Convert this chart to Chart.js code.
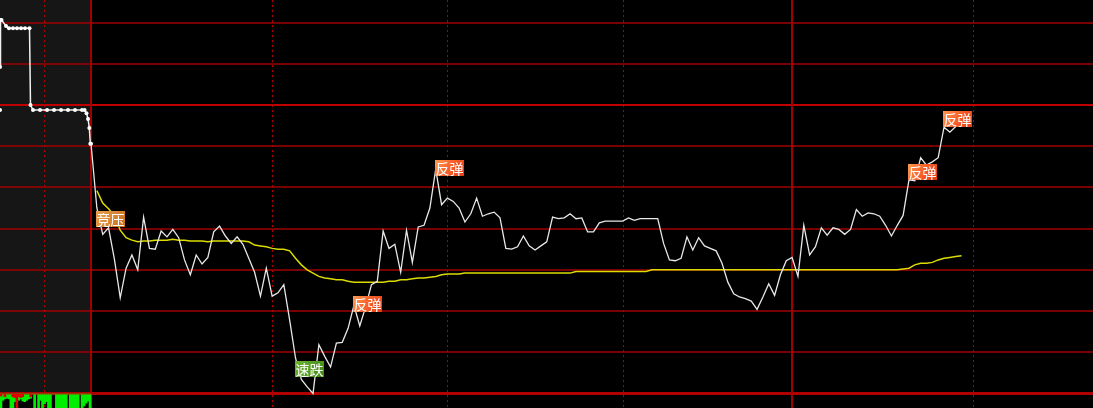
<!DOCTYPE html>
<html>
<head>
<meta charset="utf-8">
<script src="https://cdn.jsdelivr.net/npm/chart.js@4.4.1/dist/chart.umd.min.js"></script>
<style>
  html, body { margin: 0; padding: 0; background: #000; overflow: hidden; }
  #wrap { position: relative; width: 1093px; height: 408px; }
</style>
</head>
<body>
<div id="wrap"><canvas id="c" width="1093" height="408"></canvas></div>
<script>
// ---------- DATA ----------
// Price change in % vs previous close, one value per minute of the session (index = minute)
const mainPrice = [
 -0.47, -1.25, -1.57, -1.49, -1.87, -2.34, -1.98, -1.82, -2.00, -1.36,
 -1.74, -1.75, -1.53, -1.60, -1.51, -1.61, -1.88, -2.06, -1.82, -1.93,
 -1.85, -1.54, -1.47, -1.59, -1.68, -1.60, -1.69, -1.86, -2.03, -2.32,
 -1.98, -2.32, -2.28, -2.18, -2.61, -3.07, -3.33, -3.42, -3.50, -2.91,
 -3.05, -3.18, -2.89, -2.88, -2.71, -2.43, -2.68, -2.45, -2.18, -2.14,
 -1.53, -1.74, -1.69, -2.03, -1.52, -1.91, -1.48, -1.46, -1.25, -0.78,
 -1.21, -1.13, -1.17, -1.25, -1.42, -1.32, -1.13, -1.35, -1.32, -1.30,
 -1.37, -1.74, -1.75, -1.72, -1.59, -1.71, -1.76, -1.71, -1.66, -1.36,
 -1.38, -1.37, -1.32, -1.38, -1.37, -1.54, -1.54, -1.43, -1.41, -1.41,
 -1.41, -1.41, -1.37, -1.40, -1.38, -1.38, -1.38, -1.38, -1.68, -1.88,
 -1.89, -1.86, -1.60, -1.76, -1.61, -1.71, -1.74, -1.77, -1.92, -2.15,
 -2.29, -2.33, -2.35, -2.38, -2.48, -2.33, -2.17, -2.31, -2.06, -1.89,
 -1.85, -2.08, -1.46, -1.82, -1.72, -1.49, -1.58, -1.49, -1.51, -1.57,
 -1.51, -1.27, -1.35, -1.31, -1.32, -1.35, -1.46, -1.59, -1.46, -1.34,
 -0.91, -0.92, -0.64, -0.73, -0.69, -0.64, -0.27, -0.33, -0.26
];
// Average price line (%), per minute
const avgPrice = [
 null, -1.04, -1.19, -1.26, -1.34, -1.52, -1.61, -1.64, -1.66, -1.65,
 -1.65, -1.64, -1.64, -1.64, -1.63, -1.64, -1.64, -1.65, -1.65, -1.65,
 -1.66, -1.65, -1.65, -1.65, -1.65, -1.65, -1.65, -1.66, -1.70, -1.71,
 -1.72, -1.74, -1.75, -1.75, -1.77, -1.86, -1.94, -2.00, -2.04, -2.08,
 -2.10, -2.11, -2.12, -2.12, -2.14, -2.15, -2.15, -2.15, -2.15, -2.15,
 -2.15, -2.14, -2.14, -2.12, -2.12, -2.11, -2.10, -2.10, -2.09, -2.08,
 -2.06, -2.05, -2.05, -2.05, -2.04, -2.04, -2.04, -2.04, -2.04, -2.04,
 -2.04, -2.04, -2.04, -2.04, -2.04, -2.04, -2.04, -2.04, -2.04, -2.04,
 -2.04, -2.04, -2.04, -2.02, -2.02, -2.02, -2.02, -2.02, -2.02, -2.02,
 -2.02, -2.02, -2.02, -2.02, -2.02, -2.02, -2.00, -2.00, -2.00, -2.00,
 -2.00, -2.00, -2.00, -2.00, -2.00, -2.00, -2.00, -2.00, -2.00, -2.00,
 -2.00, -2.00, -2.00, -2.00, -2.00, -2.00, -2.00, -2.00, -2.00, -2.00,
 -2.00, -2.00, -2.00, -2.00, -2.00, -2.00, -2.00, -2.00, -2.00, -2.00,
 -2.00, -2.00, -2.00, -2.00, -2.00, -2.00, -2.00, -2.00, -2.00, -1.99,
 -1.98, -1.94, -1.92, -1.92, -1.91, -1.88, -1.86, -1.85, -1.84, -1.83
];
// Call-auction (pre-open) snapshots: time in minutes relative to open, price in %
const preTimes  = [-15.58, -15.49, -15.32, -14.55, -14.04, -13.35, -12.67, -11.98, -11.30, -10.53,
                   -10.36, -9.93, -8.73, -7.53, -6.33, -5.13, -3.94, -2.74, -1.54, -1.11,
                   -0.77, -0.51, -0.29, -0.12, 0];
const prePrices = [0.46, 1.03, 1.03, 0.96, 0.93, 0.93, 0.93, 0.93, 0.93, 0.93,
                   0.00, -0.06, -0.06, -0.06, -0.06, -0.06, -0.06, -0.06, -0.06, -0.06,
                   -0.10, -0.17, -0.28, -0.47, -0.47];
const preFirstTime = -15.58, preFirstPrice = -0.06;
// Auction volume (relative), evenly spaced over the auction period
const preVolume = [1.0, 0.45, 0.35, 0.3, 0.35, 1.0, 1.0, 0.55, 0.2, 0.45,
                   0.35, 0.5, 0.55, 0.45, 0.35, 0.3, 0.0, 1.0, 0.0, 1.0,
                   0.45, 1.0, 0.7, 0.55, 1.0, 1.0, 0.0, 0.0, 1.0, 1.0,
                   1.0, 1.0, 1.0, 1.0, 0.0, 1.0, 1.0, 1.0, 1.0, 1.0,
                   0.0, 1.0, 0.85, 0.65, 0.5, 1.0];
const preVolumeRed = [0.15, 0, 0.2, 0, 0, 0, 0.2, 0.25, 1.0, 0.2,
                      0.25, 0.2, 0, 0, 0, 0.2, 0, 0, 0, 0,
                      0, 0, 0, 0, 0, 0, 0, 0, 0, 0,
                      0, 0, 0, 0, 0, 0, 0, 0, 0, 0,
                      0, 0, 0, 0, 0, 0];
// Axis definitions
const priceGridTicks = [1.0, 0.5, 0.0, -0.5, -1.0, -1.5, -2.0, -2.5, -3.0, -3.5];
const timeSolidTicks = [0, 120];
const timeDottedTicks = [-8.05, 31, 61, 91, 151];
// Signal tags
const signals = [
  { index: 1,   text: '竞压', kind: 'press',  place: 'below' },
  { index: 35,  text: '速跌', kind: 'fall',   place: 'below' },
  { index: 45,  text: '反弹', kind: 'bounce', place: 'center' },
  { index: 59,  text: '反弹', kind: 'bounce', place: 'center' },
  { index: 140, text: '反弹', kind: 'bounce', place: 'above' },
  { index: 146, text: '反弹', kind: 'bounce', place: 'above' }
];

// ---------- BUILD ----------
const X_MIN = -15.58, X_MAX = 171.5;
const Y_MIN = -3.677, Y_MAX = 1.274;
const auctionStart = X_MIN, auctionEnd = 0;

const mainPts = mainPrice.map((v, i) => ({ x: i, y: v }));
const avgPts = avgPrice.map((v, i) => ({ x: i, y: v }));
const prePts = preTimes.map((t, i) => ({ x: t, y: prePrices[i] }));
const slot = (auctionEnd - auctionStart) / preVolume.length;
const volPts = preVolume.map((v, i) => ({ x: auctionStart + (i + 0.5) * slot, y: v }));
const volRedPts = preVolumeRed.map((v, i) => ({ x: auctionStart + (i + 0.5) * slot, y: v }));

const bgPlugin = {
  id: 'bg',
  beforeDraw(chart) {
    const { ctx, chartArea: a, scales } = chart;
    ctx.save();
    ctx.fillStyle = '#000';
    ctx.fillRect(0, 0, chart.width, chart.height);
    const x0 = scales.x.getPixelForValue(0);
    const yb = scales.y.getPixelForValue(-3.5);
    ctx.fillStyle = '#161616';
    ctx.fillRect(a.left, a.top, x0 - a.left, yb - a.top);
    ctx.restore();
  },
  beforeDatasetsDraw(chart) {
    const { ctx, chartArea: a, scales } = chart;
    ctx.save();
    priceGridTicks.forEach(v => {
      const y = Math.round(scales.y.getPixelForValue(v));
      if (v === 0) { ctx.strokeStyle = '#c00000'; ctx.lineWidth = 2; ctx.beginPath(); ctx.moveTo(a.left, y); ctx.lineTo(a.right, y); ctx.stroke(); }
      else if (v === -3.5) { ctx.strokeStyle = '#b00000'; ctx.lineWidth = 3; ctx.beginPath(); ctx.moveTo(a.left, y + 0.5); ctx.lineTo(a.right, y + 0.5); ctx.stroke(); }
      else { ctx.strokeStyle = '#a00000'; ctx.lineWidth = 1.5; ctx.beginPath(); ctx.moveTo(a.left, y); ctx.lineTo(a.right, y); ctx.stroke(); }
    });
    timeSolidTicks.forEach(t => {
      const x = Math.round(scales.x.getPixelForValue(t));
      ctx.strokeStyle = '#a00000'; ctx.lineWidth = 2;
      ctx.beginPath(); ctx.moveTo(x, a.top); ctx.lineTo(x, a.bottom); ctx.stroke();
    });
    ctx.setLineDash([2, 3]);
    timeDottedTicks.forEach(t => {
      const x = Math.round(scales.x.getPixelForValue(t)) + 0.5;
      ctx.strokeStyle = '#b00000'; ctx.lineWidth = 1;
      ctx.beginPath(); ctx.moveTo(x, a.top); ctx.lineTo(x, a.bottom); ctx.stroke();
    });
    ctx.setLineDash([]);
    ctx.restore();
  },
  afterDatasetsDraw(chart) {
    const { ctx, scales } = chart;
    ctx.save();
    const w = 29, h = 16;
    signals.forEach(s => {
      const px = scales.x.getPixelForValue(s.index);
      const py = scales.y.getPixelForValue(mainPrice[s.index]);
      const left = Math.round(px - 1);
      let top;
      if (s.place === 'below') top = Math.round(py + 3);
      else if (s.place === 'above') top = Math.round(py - h);
      else top = Math.round(py - h / 2 - 1);
      const g = ctx.createLinearGradient(left, top, left + w, top + h);
      if (s.kind === 'bounce') { g.addColorStop(0, '#ff9a50'); g.addColorStop(0.5, '#f8602a'); g.addColorStop(1, '#e83a14'); }
      else if (s.kind === 'fall') { g.addColorStop(0, '#6cb232'); g.addColorStop(1, '#3f8a14'); }
      else { g.addColorStop(0, '#e8a050'); g.addColorStop(1, '#c8701e'); }
      ctx.fillStyle = g;
      ctx.fillRect(left, top, w, h);
      ctx.fillStyle = '#ffffff';
      ctx.font = '14px "Noto Sans CJK SC", sans-serif';
      ctx.textAlign = 'center';
      ctx.textBaseline = 'middle';
      ctx.fillText(s.text, left + w / 2, top + h / 2 + 1);
    });
    ctx.restore();
  }
};

new Chart(document.getElementById('c'), {
  type: 'line',
  data: {
    datasets: [
      { label: 'avg', data: avgPts, borderColor: '#dcdc00', borderWidth: 1.5, pointRadius: 0, tension: 0, order: 2 },
      { label: 'price', data: mainPts, borderColor: '#e8e8e8', borderWidth: 1.3, pointRadius: 0, tension: 0, order: 1 },
      { label: 'auction', data: prePts, borderColor: '#f0f0f0', borderWidth: 1.5, pointRadius: 2, pointBackgroundColor: '#ffffff', pointBorderWidth: 0, tension: 0, order: 1 },
      { label: 'auctionFirst', data: [{ x: preFirstTime, y: preFirstPrice }], showLine: false, pointRadius: 2, pointBackgroundColor: '#ffffff', pointBorderWidth: 0, order: 1 },
      { type: 'bar', label: 'vol', data: volPts, yAxisID: 'yv', backgroundColor: '#00ee00', barThickness: 2, grouped: false, order: 4 },
      { type: 'bar', label: 'volRed', data: volRedPts, yAxisID: 'yv', backgroundColor: '#e00000', barThickness: 2, grouped: false, order: 3 }
    ]
  },
  options: {
    responsive: false,
    animation: false,
    layout: { padding: 0, autoPadding: false },
    plugins: { legend: { display: false }, tooltip: { enabled: false } },
    scales: {
      x: { type: 'linear', min: X_MIN, max: X_MAX, display: false, offset: false },
      y: { type: 'linear', min: Y_MIN, max: Y_MAX, display: false },
      yv: { type: 'linear', min: -28.14, max: 1, reverse: true, display: false }
    }
  },
  plugins: [bgPlugin]
});
</script>
</body>
</html>
